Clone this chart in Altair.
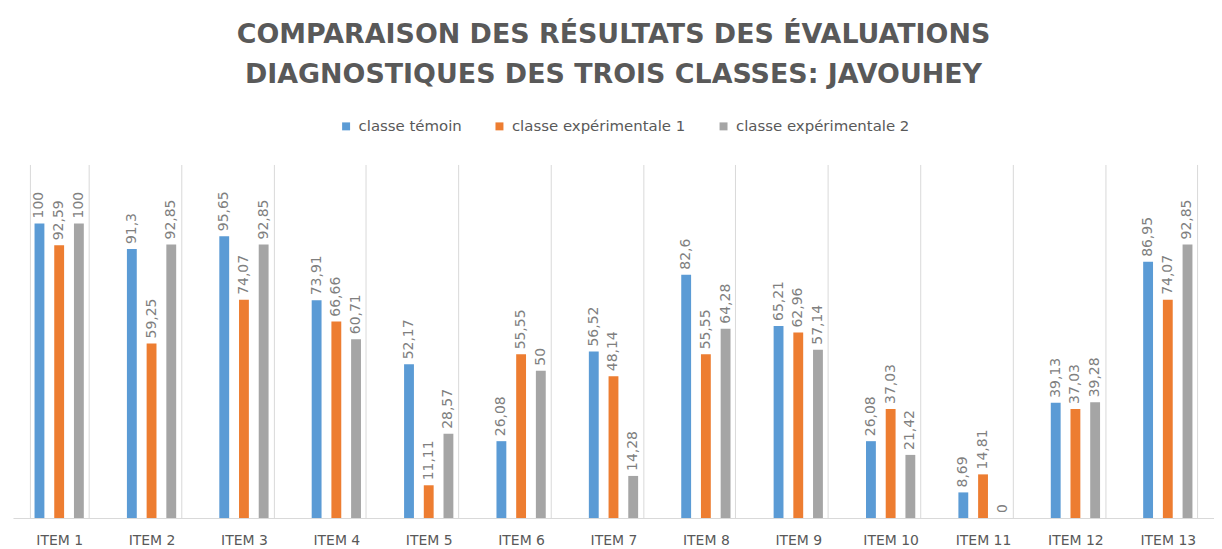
import altair as alt
import pandas as pd

items = [f"ITEM {i}" for i in range(1, 14)]
series = ["classe témoin", "classe expérimentale 1", "classe expérimentale 2"]
temoin = [100, 91.3, 95.65, 73.91, 52.17, 26.08, 56.52, 82.6, 65.21, 26.08, 8.69, 39.13, 86.95]
exp1 = [92.59, 59.25, 74.07, 66.66, 11.11, 55.55, 48.14, 55.55, 62.96, 37.03, 14.81, 37.03, 74.07]
exp2 = [100, 92.85, 92.85, 60.71, 28.57, 50, 14.28, 64.28, 57.14, 21.42, 0, 39.28, 92.85]
colors = ["#5B9BD5", "#ED7D31", "#A5A5A5"]

rows = []
for s, vals in zip(series, [temoin, exp1, exp2]):
    for it, v in zip(items, vals):
        rows.append({"item": it, "serie": s, "valeur": v,
                     "label": f"{v:g}".replace(".", ",")})
df = pd.DataFrame(rows)

FONT = "DejaVu Sans"

x = alt.X("item:N", sort=items, title=None,
          scale=alt.Scale(paddingInner=0.36, paddingOuter=0.18),
          axis=alt.Axis(tickBand="extent", grid=True, gridColor="#D9D9D9",
                        ticks=False, domainColor="#D9D9D9", labelAngle=0,
                        labelFont=FONT, labelFontSize=14,
                        labelColor="#595959", labelPadding=16))
xo = alt.XOffset("serie:N", sort=series,
                 scale=alt.Scale(paddingInner=0.5, paddingOuter=0.25))
y = alt.Y("valeur:Q", scale=alt.Scale(domain=[0, 120]), axis=None)

base = alt.Chart(df)
bars = base.mark_bar().encode(
    x=x, xOffset=xo, y=y,
    color=alt.Color("serie:N", sort=series,
                    scale=alt.Scale(domain=series, range=colors),
                    legend=alt.Legend(title=None, orient="none", direction="horizontal",
                                      legendX=327, legendY=-46,
                                      symbolType="square", symbolSize=64,
                                      symbolStrokeWidth=0, labelLimit=400,
                                      labelFont=FONT, labelFontSize=15,
                                      labelColor="#595959", columnPadding=30,
                                      symbolOffset=0, labelOffset=5)),
)
text = base.mark_text(angle=270, align="left", baseline="middle", dx=5,
                      font=FONT, fontSize=14, color="#7F7F7F").encode(
    x=x, xOffset=xo, y=y, text="label:N")

chart = alt.layer(bars, text).properties(
    width=1206, height=355,
    padding={"left": 5, "top": 12, "right": 0, "bottom": 0},
    title=alt.Title(text=["COMPARAISON DES RÉSULTATS DES ÉVALUATIONS",
                          "DIAGNOSTIQUES DES TROIS CLASSES: JAVOUHEY"],
                    font=FONT, fontSize=27, fontWeight="bold",
                    color="#595959", lineHeight=40, anchor="middle", offset=30),
).configure_view(stroke=None)

chart.save("out.html", embed_options={"renderer": "svg", "actions": False})
